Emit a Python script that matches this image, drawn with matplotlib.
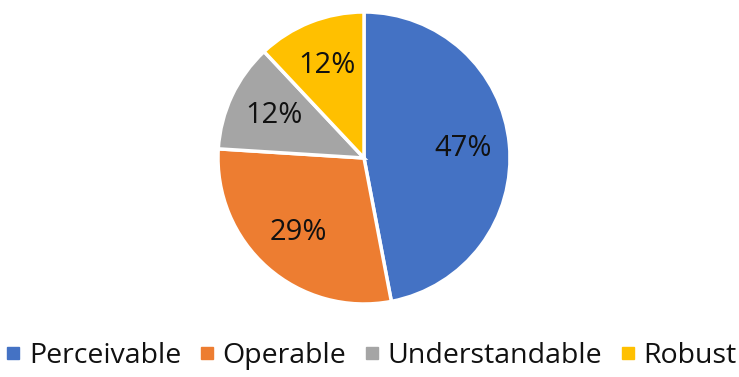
import matplotlib.pyplot as plt
from matplotlib.lines import Line2D

labels = ["Perceivable", "Operable", "Understandable", "Robust"]
shares = [47, 29, 12, 12]
colors = ["#4472C4", "#ED7D31", "#A5A5A5", "#FFC000"]

plt.rcParams['font.family'] = ['Open Sans', 'DejaVu Sans']

fig = plt.figure(figsize=(7.39, 3.77), dpi=100)
cx, cy, r = 364, 158, 146
ax = fig.add_axes([(cx - r) / 739, 1 - (cy + r) / 377, 2 * r / 739, 2 * r / 377])

wedges, texts, autotexts = ax.pie(
    shares, colors=colors, startangle=90, counterclock=False,
    autopct=lambda p: f"{p:.0f}%", pctdistance=0.68,
    wedgeprops=dict(edgecolor='white', linewidth=2.5),
    textprops=dict(fontsize=21, color='#111111'))
ax.set_xlim(-1, 1)
ax.set_ylim(-1, 1)
ax.set_aspect('auto')
ax.axis('off')

handles = [Line2D([], [], marker='s', linestyle='none', markersize=9,
                  markerfacecolor=c, markeredgecolor=c) for c in colors]
fig.legend(handles, labels, loc='center', bbox_to_anchor=(0.5, 1 - 356 / 377),
           ncol=4, frameon=False, fontsize=20.5, handletextpad=0.15,
           columnspacing=0.5, handlelength=0.8, labelcolor='#111111')

fig.savefig("out.png", dpi=100)
